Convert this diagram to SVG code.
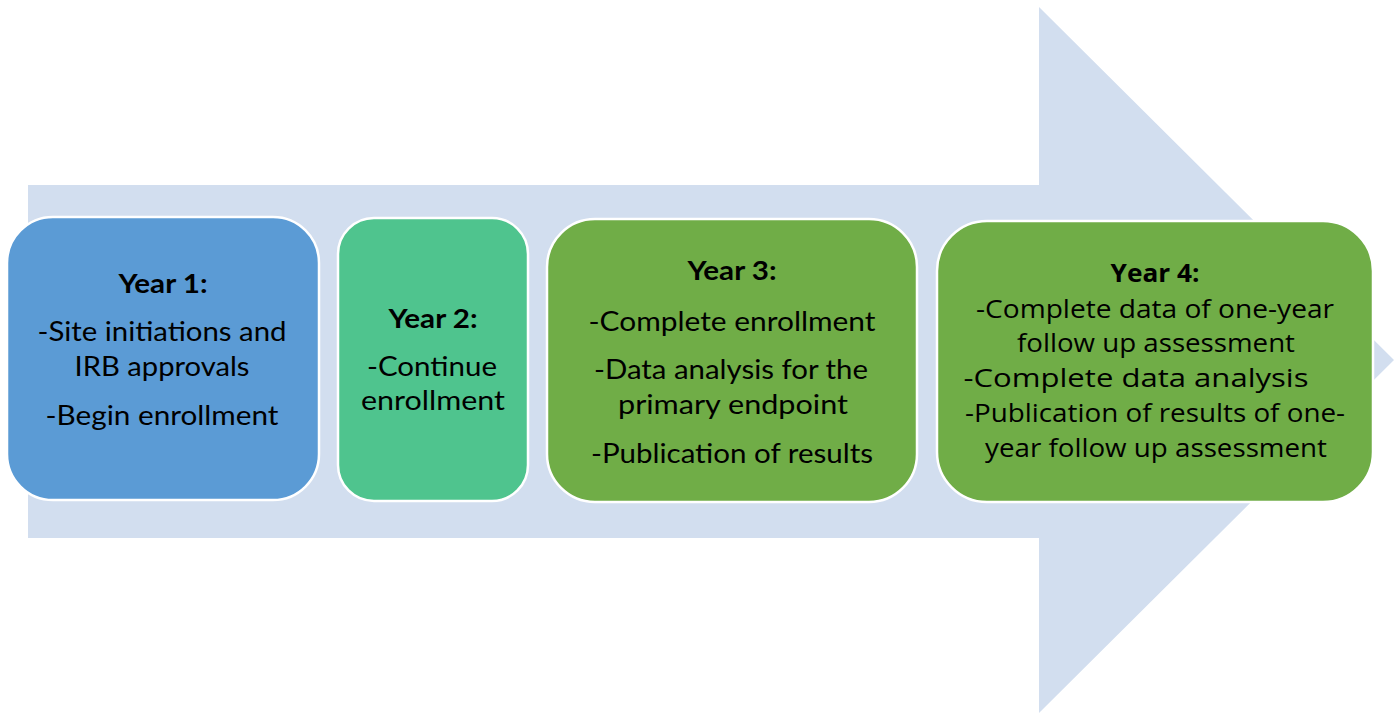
<svg xmlns="http://www.w3.org/2000/svg" width="1398" height="713" viewBox="0 0 1398 713">
<style>
.box{stroke:#ffffff;stroke-width:2.5}
.t{font-family:Lato,"Liberation Sans",sans-serif;font-size:27px;fill:#000;text-anchor:middle}
.t4{font-family:"Open Sans","Liberation Sans",sans-serif;font-size:25px;fill:#000;text-anchor:middle}
.b{font-weight:bold}
</style>
<rect width="1398" height="713" fill="#ffffff"/>
<g id="arrow">
<polygon points="28,185 1039,185 1039,7 1394,360 1039,713 1039,538 28,538" fill="#D2DEEF"/>
</g>
<g id="connectors"></g>
<g id="year1">
<rect class="box" x="7" y="217" width="312" height="283" rx="46" fill="#5B9BD5"/>
<text class="t b" x="163" y="293" textLength="89" lengthAdjust="spacingAndGlyphs">Year 1:</text>
<text class="t" x="162" y="341" textLength="249" lengthAdjust="spacingAndGlyphs">-Site initiations and</text>
<text class="t" x="162" y="376" textLength="175" lengthAdjust="spacingAndGlyphs">IRB approvals</text>
<text class="t" x="162" y="425" textLength="233" lengthAdjust="spacingAndGlyphs">-Begin enrollment</text>
</g>
<g id="year2">
<rect class="box" x="338" y="218" width="190" height="283" rx="36" fill="#4FC48E"/>
<text class="t b" x="433" y="328" textLength="89" lengthAdjust="spacingAndGlyphs">Year 2:</text>
<text class="t" x="432" y="376" textLength="130" lengthAdjust="spacingAndGlyphs">-Continue</text>
<text class="t" x="433" y="410" textLength="144" lengthAdjust="spacingAndGlyphs">enrollment</text>
</g>
<g id="year3">
<rect class="box" x="547" y="219" width="370" height="283" rx="48" fill="#70AD47"/>
<text class="t b" x="732" y="280" textLength="89" lengthAdjust="spacingAndGlyphs">Year 3:</text>
<text class="t" x="732" y="331" textLength="287" lengthAdjust="spacingAndGlyphs">-Complete enrollment</text>
<text class="t" x="731" y="379" textLength="274" lengthAdjust="spacingAndGlyphs">-Data analysis for the</text>
<text class="t" x="733" y="414" textLength="230" lengthAdjust="spacingAndGlyphs">primary endpoint</text>
<text class="t" x="732" y="463" textLength="282" lengthAdjust="spacingAndGlyphs">-Publication of results</text>
</g>
<g id="year4">
<rect class="box" x="937" y="221" width="436" height="281" rx="50" fill="#70AD47"/>
<text class="t4 b" x="1155" y="282" textLength="89" lengthAdjust="spacingAndGlyphs">Year 4:</text>
<text class="t4" x="1155" y="318" textLength="358" lengthAdjust="spacingAndGlyphs">-Complete data of one-year</text>
<text class="t4" x="1156" y="352" textLength="278" lengthAdjust="spacingAndGlyphs">follow up assessment</text>
<text class="t4" x="1136" y="387" textLength="345" lengthAdjust="spacingAndGlyphs">-Complete data analysis</text>
<text class="t4" x="1155" y="422" textLength="380" lengthAdjust="spacingAndGlyphs">-Publication of results of one-</text>
<text class="t4" x="1156" y="457" textLength="342" lengthAdjust="spacingAndGlyphs">year follow up assessment</text>
</g>
</svg>
